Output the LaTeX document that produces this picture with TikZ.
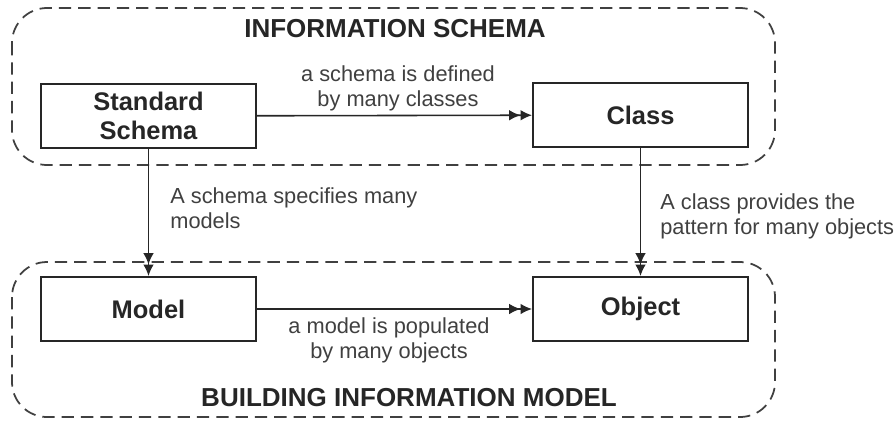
\documentclass[tikz,border=0pt]{standalone}
\usepackage{fontspec}
\setmainfont{Liberation Sans}
\usepackage{xcolor}
\usepackage{tikz}
\usetikzlibrary{arrows.meta}
\usetikzlibrary{positioning}

\begin{document}
\begin{tikzpicture}[
  x=0.02cm, y=-0.02cm,
  entity/.style={rectangle, draw=black!85, line width=1.1pt, minimum width=4.3cm, minimum height=1.28cm,
    align=center, font=\fontsize{14.5}{16.5}\selectfont\bfseries, text=black!85},
  region/.style={draw=black!75, line width=1pt, dash pattern=on 7pt off 4pt, rounded corners=0.7cm},
  title/.style={font=\fontsize{14.8}{17}\selectfont\bfseries, text=black!85},
  note/.style={font=\fontsize{12.4}{14.2}\selectfont, text=black!75, inner sep=0pt},
  rel/.style={line width=0.9pt, draw=black!85},
]
\tikzset{>={Latex[length=6.5pt, width=6pt] Latex[length=6.5pt, width=6pt]}}
\useasboundingbox (0,0) rectangle (895,420);

% the two regions
\draw[region] (12,8) rectangle (775,165);
\draw[region] (12,262) rectangle (775,417);
\node[title] (infotitle) at (395,29) {INFORMATION SCHEMA};
\node[title] (bimtitle) at (409,398) {BUILDING INFORMATION MODEL};

\node[entity] (schema) at (148.5,116) {Standard\\Schema};
\node[entity] (class)  at (640.5,115) {Class};
\node[entity] (model)  at (148.5,309) {Model};
\node[entity] (object) at (640.5,309) {Object};

\draw[rel, ->] (schema) -- (class);
\draw[rel, ->] (model) -- (object);
\draw[rel, ->] (schema) -- (model);
\draw[rel, ->] (class) -- (object);

\node[note, align=center] (definedby) at (398,88) {a schema is defined\\by many classes};
\node[note, align=center] (populatedby) at (389,340) {a model is populated\\by many objects};
\node[note, align=left, anchor=west] (specifies) at (170,208) {A schema specifies many\\models};
\node[note, align=left, anchor=west] (provides) at (660,216) {A class provides the\\pattern for many objects};
\end{tikzpicture}
\end{document}
